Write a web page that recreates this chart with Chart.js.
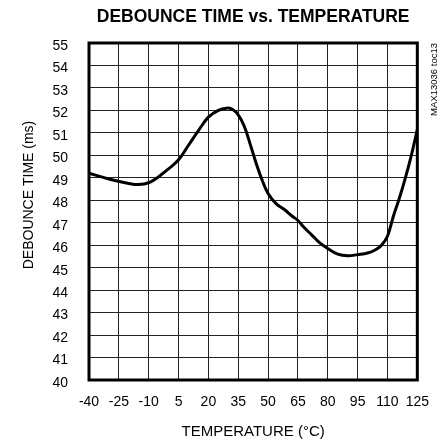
<!DOCTYPE html>
<html>
<head>
<meta charset="utf-8">
<script src="https://cdn.jsdelivr.net/npm/chart.js@4"></script>
<style>
  html, body { margin: 0; padding: 0; background: #fff; }
  #wrap { width: 443px; height: 445px; position: relative; }
</style>
</head>
<body>
<div id="wrap"><canvas id="c" width="443" height="445"></canvas></div>
<script>
// Debounce time measured across the temperature range
const temperatureC = [-40, -30, -20, -15, -10, -5, 0, 5, 10, 15, 20, 25, 29, 32, 35, 38, 41, 44, 47, 50, 54, 58, 62, 65, 68, 72, 76, 80, 85, 90, 95, 100, 104, 107, 110, 113, 116, 119, 122, 125];
const debounceMs   = [49.2, 48.95, 48.75, 48.7, 48.78, 49.05, 49.4, 49.8, 50.45, 51.1, 51.7, 52.0, 52.1, 52.05, 51.8, 51.3, 50.5, 49.65, 48.9, 48.3, 47.85, 47.6, 47.3, 47.1, 46.8, 46.45, 46.1, 45.85, 45.6, 45.53, 45.58, 45.65, 45.8, 46.0, 46.4, 47.3, 48.1, 49.0, 50.0, 51.15];

const xTicks = [-40, -25, -10, 5, 20, 35, 50, 65, 80, 95, 110, 125];
const yTicks = [40, 41, 42, 43, 44, 45, 46, 47, 48, 49, 50, 51, 52, 53, 54, 55];

const chartTitle = 'DEBOUNCE TIME vs. TEMPERATURE';
const xTitle = 'TEMPERATURE (°C)';
const yTitle = 'DEBOUNCE TIME (ms)';
const sideNote = 'MAX13036 toc13';

const FONT = '"Liberation Sans", Arial, sans-serif';

const points = temperatureC.map((t, i) => ({ x: t, y: debounceMs[i] }));

// Titles, frame and side note drawn around the plot area
const decorations = {
  id: 'decorations',
  afterDatasetsDraw(chart) {
    const { ctx, chartArea: a } = chart;
    ctx.save();
    // plot frame
    ctx.strokeStyle = '#000';
    ctx.lineWidth = 3;
    ctx.strokeRect(a.left, a.top, a.right - a.left, a.bottom - a.top);

    ctx.fillStyle = '#000';
    // main title
    ctx.font = 'bold 17.5px ' + FONT;
    ctx.textAlign = 'center';
    ctx.textBaseline = 'middle';
    ctx.fillText(chartTitle, (a.left + a.right) / 2, 17);

    // x axis title
    ctx.font = '15px ' + FONT;
    ctx.fillText(xTitle, (a.left + a.right) / 2, 432);

    // y axis title
    ctx.save();
    ctx.font = '14px ' + FONT;
    ctx.translate(29, 195);
    ctx.rotate(-Math.PI / 2);
    ctx.fillText(yTitle, 0, 0);
    ctx.restore();

    // side note
    ctx.save();
    ctx.font = '9.5px ' + FONT;
    ctx.translate(434, a.top);
    ctx.rotate(-Math.PI / 2);
    ctx.textAlign = 'right';
    ctx.fillText(sideNote, 0, 0);
    ctx.restore();

    ctx.restore();
  }
};

new Chart(document.getElementById('c'), {
  type: 'line',
  data: {
    datasets: [{
      data: points,
      borderColor: '#000',
      borderWidth: 3,
      pointRadius: 0,
      fill: false,
      tension: 0.4,
      borderJoinStyle: 'round',
      borderCapStyle: 'round'
    }]
  },
  options: {
    responsive: false,
    animation: false,
    events: [],
    layout: { padding: { left: 0, right: 17, top: 43, bottom: 0 } },
    plugins: { legend: { display: false }, title: { display: false }, tooltip: { enabled: false } },
    scales: {
      x: {
        type: 'linear',
        min: -40, max: 125,
        afterBuildTicks: s => { s.ticks = xTicks.map(v => ({ value: v })); },
        afterFit: s => { s.height = 65; },
        grid: { color: '#222', lineWidth: 1, drawTicks: false },
        border: { display: false },
        ticks: { color: '#000', font: { family: FONT, size: 14 }, padding: 14, maxRotation: 0, autoSkip: false }
      },
      y: {
        min: 40, max: 55,
        afterBuildTicks: s => { s.ticks = yTicks.map(v => ({ value: v })); },
        afterFit: s => { s.width = 89; },
        grid: { color: '#222', lineWidth: 1, drawTicks: false },
        border: { display: false },
        ticks: { color: '#000', font: { family: FONT, size: 14 }, padding: 21, labelOffset: 3, autoSkip: false }
      }
    }
  },
  plugins: [decorations]
});
</script>
</body>
</html>
